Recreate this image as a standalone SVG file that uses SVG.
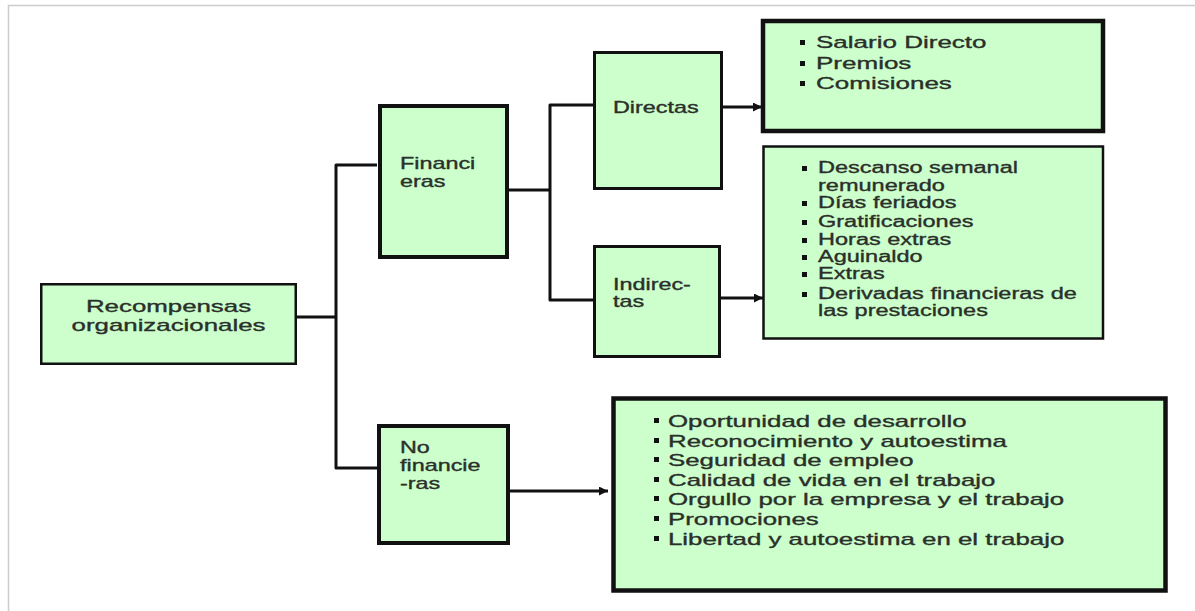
<svg xmlns="http://www.w3.org/2000/svg" width="1195" height="611" viewBox="0 0 1195 611">
<style>
.box{fill:#ccffcc;stroke:#111;}
.t{font-family:"Liberation Sans",Arial,sans-serif;fill:#2a2f2a;stroke:#2a2f2a;stroke-width:0.35;}
.f17{font-size:17px;}
.f16{font-size:16px;}
.conn{fill:none;stroke:#111;stroke-width:3;stroke-linejoin:round;}
.bul{fill:#111;}
</style>
<defs>
<marker id="arr" viewBox="0 0 10 10" refX="10" refY="5" markerWidth="11" markerHeight="9" markerUnits="userSpaceOnUse" orient="auto">
<path d="M0,0 L10,5 L0,10 Z" fill="#111"/>
</marker>
</defs>
<rect width="1195" height="611" fill="#fff"/>
<path d="M8.5,611 V5.5 H1195" fill="none" stroke="#cccccc" stroke-width="1.5"/>

<g id="connectors">
<path class="conn" d="M287,317 H336"/>
<path class="conn" d="M377,165 H336 V468 H378"/>
<path class="conn" d="M508,190 H550"/>
<path class="conn" d="M595,105 H550 V300 H595"/>
<path class="conn" d="M723,107 H762" marker-end="url(#arr)"/>
<path class="conn" d="M721,298 H763" marker-end="url(#arr)"/>
<path class="conn" d="M510,491 H608" marker-end="url(#arr)"/>
</g>

<g id="root">
<rect class="box" x="41.25" y="284.25" width="254.5" height="79.5" stroke-width="2.5"/>
<g transform="translate(168.5,0) scale(1.52,1)">
<text class="t f17" text-anchor="middle" x="0" y="312">Recompensas</text>
<text class="t f17" text-anchor="middle" x="0" y="331">organizacionales</text>
</g>
</g>

<g id="financieras">
<rect class="box" x="380" y="106" width="127" height="151" stroke-width="4"/>
<g transform="translate(400,0) scale(1.46,1)">
<text class="t f16" x="0" y="169">Financi</text>
<text class="t f16" x="0" y="187">eras</text>
</g>
</g>

<g id="directas">
<rect class="box" x="594.5" y="52.5" width="127" height="136" stroke-width="3"/>
<g transform="translate(613,0) scale(1.46,1)">
<text class="t f16" x="0" y="113">Directas</text>
</g>
</g>

<g id="indirectas">
<rect class="box" x="594.5" y="246.5" width="125" height="110" stroke-width="3"/>
<g transform="translate(613,0) scale(1.46,1)">
<text class="t f16" x="0" y="290">Indirec-</text>
<text class="t f16" x="0" y="307">tas</text>
</g>
</g>

<g id="nofinancieras">
<rect class="box" x="379" y="426" width="129" height="117" stroke-width="4"/>
<g transform="translate(400,0) scale(1.46,1)">
<text class="t f16" x="0" y="453">No</text>
<text class="t f16" x="0" y="471">financie</text>
<text class="t f16" x="0" y="489">-ras</text>
</g>
</g>

<g id="directas-items">
<rect class="box" x="763" y="21" width="340" height="110" stroke-width="4.5"/>
<rect class="bul" x="800" y="40" width="5" height="5"/>
<rect class="bul" x="800" y="61" width="5" height="5"/>
<rect class="bul" x="800" y="81" width="5" height="5"/>
<g transform="translate(816,0) scale(1.53,1)">
<text class="t f17" x="0" y="48">Salario Directo</text>
<text class="t f17" x="0" y="69">Premios</text>
<text class="t f17" x="0" y="89.5">Comisiones</text>
</g>
</g>

<g id="indirectas-items">
<rect class="box" x="763.5" y="146.5" width="339.5" height="192" stroke-width="2.5" stroke="#223322"/>
<rect class="bul" x="802" y="166" width="5" height="5"/>
<rect class="bul" x="802" y="201" width="5" height="5"/>
<rect class="bul" x="802" y="220" width="5" height="5"/>
<rect class="bul" x="802" y="238" width="5" height="5"/>
<rect class="bul" x="802" y="255" width="5" height="5"/>
<rect class="bul" x="802" y="272" width="5" height="5"/>
<rect class="bul" x="802" y="292" width="5" height="5"/>
<g transform="translate(818,0) scale(1.47,1)">
<text class="t f16" x="0" y="173">Descanso semanal</text>
<text class="t f16" x="0" y="191">remunerado</text>
<text class="t f16" x="0" y="208">Días feriados</text>
<text class="t f16" x="0" y="227">Gratificaciones</text>
<text class="t f16" x="0" y="245">Horas extras</text>
<text class="t f16" x="0" y="262">Aguinaldo</text>
<text class="t f16" x="0" y="279">Extras</text>
<text class="t f16" x="0" y="299">Derivadas financieras de</text>
<text class="t f16" x="0" y="316">las prestaciones</text>
</g>
</g>

<g id="nofinancieras-items">
<rect class="box" x="613.5" y="398.5" width="552" height="192" stroke-width="4.5"/>
<rect class="bul" x="654" y="418" width="5" height="5"/>
<rect class="bul" x="654" y="438" width="5" height="5"/>
<rect class="bul" x="654" y="457" width="5" height="5"/>
<rect class="bul" x="654" y="477" width="5" height="5"/>
<rect class="bul" x="654" y="496" width="5" height="5"/>
<rect class="bul" x="654" y="516" width="5" height="5"/>
<rect class="bul" x="654" y="536" width="5" height="5"/>
<g transform="translate(668,0) scale(1.52,1)">
<text class="t f17" x="0" y="427">Oportunidad de desarrollo</text>
<text class="t f17" x="0" y="447">Reconocimiento y autoestima</text>
<text class="t f17" x="0" y="466">Seguridad de empleo</text>
<text class="t f17" x="0" y="486">Calidad de vida en el trabajo</text>
<text class="t f17" x="0" y="505">Orgullo por la empresa y el trabajo</text>
<text class="t f17" x="0" y="525">Promociones</text>
<text class="t f17" x="0" y="545">Libertad y autoestima en el trabajo</text>
</g>
</g>
</svg>
